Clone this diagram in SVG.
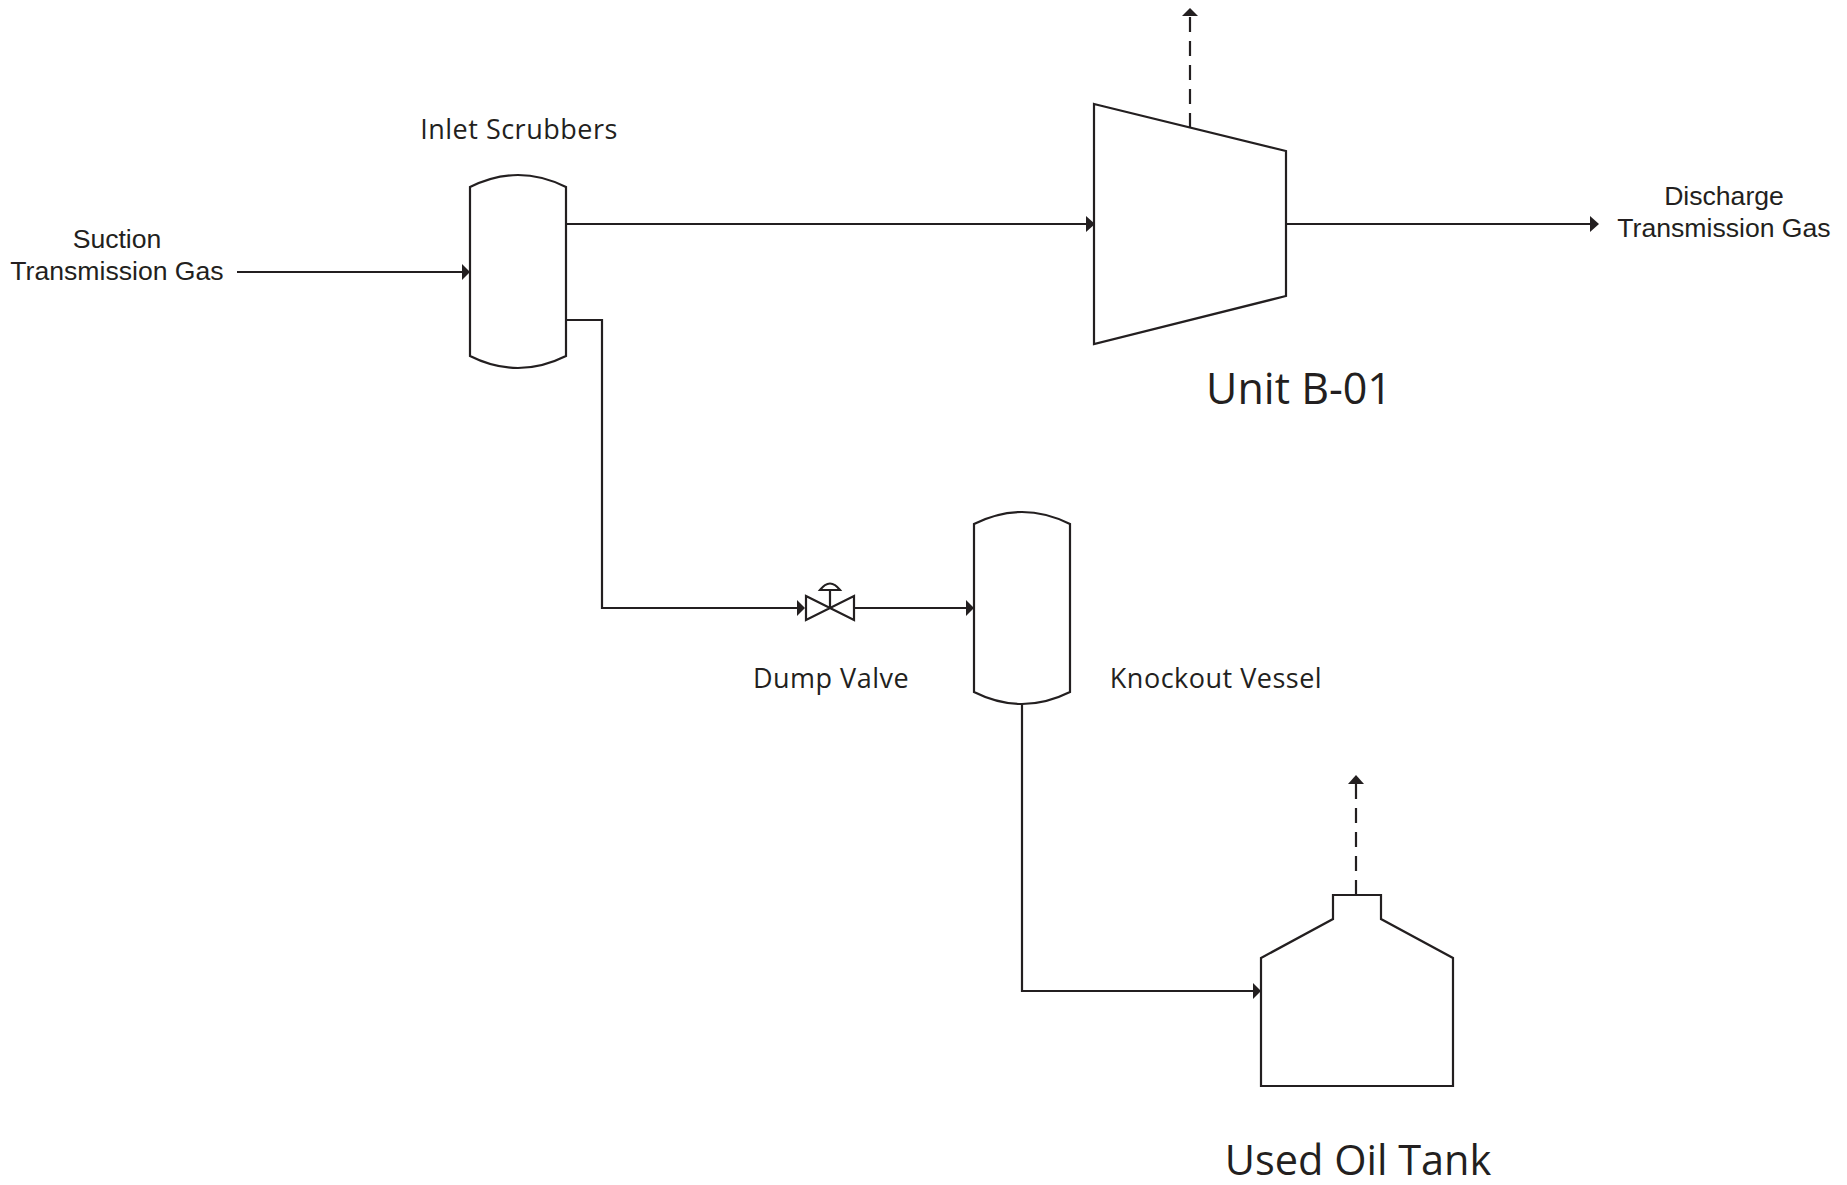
<svg xmlns="http://www.w3.org/2000/svg" width="1847" height="1185" viewBox="0 0 1847 1185">
<defs><style>
.s{fill:#fff;stroke:#231f20;stroke-width:2.2}
.c{fill:none;stroke:#231f20;stroke-width:2.2}
.d{stroke-dasharray:15 9}
.h{fill:#231f20}
text{fill:#231f20;text-anchor:middle}
.a{font:26.6px "Liberation Sans",Arial,sans-serif}
.o{font:27px "Open Sans","Noto Sans",sans-serif;letter-spacing:.5px}
.b{font:43px "Open Sans","Noto Sans",sans-serif}
.t{font-size:41.5px}
</style></defs>
<rect width="1847" height="1185" fill="#fff"/>
<g id="connectors">
<path class="c" d="M237 272H462"/><path class="h" d="M462 264L470 272L462 280Z"/>
<path class="c" d="M566 224H1086"/><path class="h" d="M1086 216L1095 224L1086 232Z"/>
<path class="c" d="M1286 224H1590"/><path class="h" d="M1590 216L1599 224L1590 232Z"/>
<path class="c" d="M566 320H602V608H797"/><path class="h" d="M797 600L805 608L797 616Z"/>
<path class="c" d="M855 608H966"/><path class="h" d="M966 600L974 608L966 616Z"/>
<path class="c" d="M1022 704V991H1253"/><path class="h" d="M1253 983L1261 991L1253 999Z"/>
<path class="c d" d="M1190 128V16"/><path class="h" d="M1182 16L1190 8L1198 16Z"/>
<path class="c d" d="M1356 895V784"/><path class="h" d="M1348 784L1356 775L1364 784Z"/>
</g>
<g id="inlet-scrubber"><path class="s" d="M470 187Q518 163 566 187V356Q518 380 470 356Z"/><text class="o" x="519" y="139">Inlet Scrubbers</text></g>
<g id="compressor"><path class="s" d="M1094 104L1286 151V296L1094 344Z"/><text class="b" x="1299" y="404">Unit B-01</text></g>
<g id="knockout-vessel"><path class="s" d="M974 524Q1022 500 1070 524V692Q1022 716 974 692Z"/><text class="o" x="1216" y="688">Knockout Vessel</text></g>
<g id="dump-valve"><path class="s" d="M806 596L854 620V596L806 620Z"/><path class="c" d="M830 608V590M820 590Q830 577 840 590Z"/><text class="o" x="831" y="688">Dump Valve</text></g>
<g id="used-oil-tank"><path class="s" d="M1261 958L1333 919V895H1381V919L1453 958V1086H1261Z"/><text class="b t" x="1358" y="1175">Used Oil Tank</text></g>
<g id="suction-label"><text class="a" x="117" y="248">Suction</text><text class="a" x="117" y="280">Transmission Gas</text></g>
<g id="discharge-label"><text class="a" x="1724" y="205">Discharge</text><text class="a" x="1724" y="237">Transmission Gas</text></g>
</svg>
